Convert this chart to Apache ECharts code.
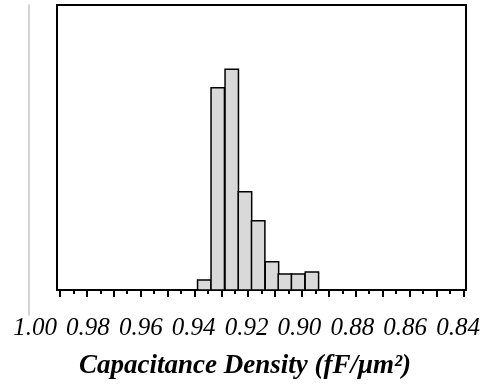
<!DOCTYPE html>
<html>
<head>
<meta charset="utf-8">
<script src="https://cdn.jsdelivr.net/npm/echarts@6/dist/echarts.min.js"></script>
<style>html,body{margin:0;padding:0;background:#fff}#c{width:483px;height:391px}</style>
</head>
<body>
<div id="c"></div>
<script>
// Histogram bins (centre of each bin, fF/µm²) and bar heights (relative frequency, %)
var binCenters = [0.9360, 0.9309, 0.9256, 0.9206, 0.9156, 0.9104, 0.9055, 0.9005, 0.8953];
var binWidth = 0.00507;
var frequencies = [3.5, 71.0, 77.5, 34.5, 24.3, 9.9, 5.6, 5.6, 6.3];
var tickLabels = ['1.00', '0.98', '0.96', '0.94', '0.92', '0.90', '0.88', '0.86', '0.84'];
var axisTitle = 'Capacitance Density (fF/\u03bcm\u00b2)';

var chart = echarts.init(document.getElementById('c'), null, {renderer: 'canvas'});
var data = binCenters.map(function (c, i) { return [c, frequencies[i]]; });
var serif = "'Liberation Serif', 'DejaVu Serif', serif";

chart.setOption({
  animation: false,
  backgroundColor: '#fff',
  title: {
    text: axisTitle,
    left: 74,
    top: 348,
    textStyle: {fontFamily: serif, fontStyle: 'italic', fontWeight: 'bold', fontSize: 27, color: '#000',
      textShadowColor: 'rgba(0,0,0,0.85)', textShadowOffsetX: 2, textShadowOffsetY: 1, textShadowBlur: 0}
  },
  grid: [
    {left: 57, right: 17, top: 5, bottom: 101, show: true, borderColor: '#000', borderWidth: 2, backgroundColor: 'transparent'},
    {left: 35, right: 24, top: 5, bottom: 101},
    {left: 60, right: 19.7, top: 5, bottom: 101},
    {left: 29, right: 400, top: 5, bottom: 76}
  ],
  xAxis: [
    {gridIndex: 0, type: 'value', show: false, min: 0, max: 1},
    {gridIndex: 1, type: 'value', inverse: true, min: 0.84, max: 1.00, interval: 0.02,
      axisLine: {show: false}, axisTick: {show: false}, splitLine: {show: false},
      axisLabel: {margin: 26, fontFamily: serif, fontStyle: 'italic', fontSize: 25, color: '#000',
        textShadowColor: 'rgba(0,0,0,0.8)', textShadowOffsetX: 2, textShadowOffsetY: 1, textShadowBlur: 0,
        formatter: function (v) {
          var idx = Math.round((1.00 - v) / 0.02);
          return tickLabels[idx] !== undefined ? tickLabels[idx] : '';
        }}},
    {gridIndex: 2, type: 'value', min: 0, max: 30, interval: 2,
      axisLine: {show: false}, splitLine: {show: false}, axisLabel: {show: false},
      axisTick: {show: true, length: 7, lineStyle: {color: '#000', width: 2}},
      minorTick: {show: true, splitNumber: 2, length: 4, lineStyle: {color: '#000', width: 2}}},
    {gridIndex: 3, type: 'value', show: false, min: 0, max: 1}
  ],
  yAxis: [
    {gridIndex: 0, type: 'value', show: false, min: 0, max: 1},
    {gridIndex: 1, type: 'value', show: false, min: 0, max: 100},
    {gridIndex: 2, type: 'value', show: false, min: 0, max: 1},
    {gridIndex: 3, type: 'value', min: 0, max: 1, axisLabel: {show: false}, axisTick: {show: false}, splitLine: {show: false},
      axisLine: {show: true, lineStyle: {color: '#d4d4d4', width: 2}}}
  ],
  series: [{
    type: 'custom',
    xAxisIndex: 1,
    yAxisIndex: 1,
    data: data,
    renderItem: function (params, api) {
      var c = api.value(0), h = api.value(1);
      var p1 = api.coord([c - binWidth / 2, h]);
      var p2 = api.coord([c + binWidth / 2, 0]);
      var x = Math.min(p1[0], p2[0]);
      var w = Math.abs(p2[0] - p1[0]);
      return {
        type: 'rect',
        shape: {x: x, y: p1[1], width: w, height: p2[1] - p1[1]},
        style: {fill: '#d9d9d9', stroke: '#000', lineWidth: 1.5}
      };
    }
  }]
});
</script>
</body>
</html>
